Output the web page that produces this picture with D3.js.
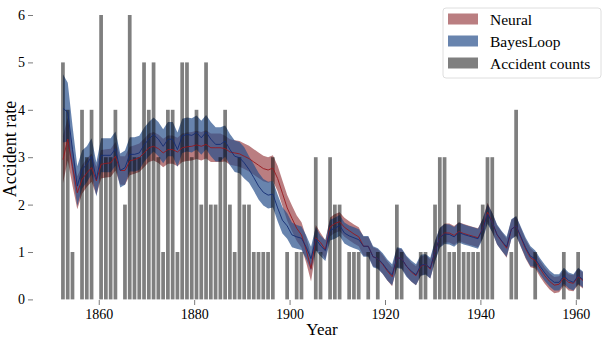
<!DOCTYPE html>
<meta charset="utf-8">
<style>
body { margin: 0; background: #fff; }
text { font-family: "Liberation Serif", "DejaVu Serif", serif; fill: #000; }
.tick-label { font-size: 14px; }
</style>
<svg width="602" height="338"></svg>
<script src="https://cdn.jsdelivr.net/npm/d3@7"></script>
<script>
// accident counts per year, 1852 .. 1961
var firstYear = 1852;
var counts = [5, 4, 1, 0, 4, 3, 4, 0, 6, 3, 3, 4, 0, 2, 6, 3, 3, 5, 4, 5,
  3, 1, 4, 4, 1, 5, 5, 3, 4, 2, 5, 2, 2, 3, 4, 2, 1, 3, 2, 2,
  1, 1, 1, 1, 3, 0, 0, 1, 0, 1, 1, 0, 0, 3, 1, 0, 3, 2, 2, 0,
  1, 1, 1, 0, 1, 0, 1, 0, 0, 0, 2, 1, 0, 0, 0, 1, 1, 0, 2, 3,
  3, 1, 1, 2, 1, 1, 1, 1, 2, 3, 3, 0, 0, 0, 1, 4, 0, 0, 0, 1,
  0, 0, 0, 0, 0, 1, 0, 0, 1, 0];

// BayesLoop posterior mean rate and half width of its band
var bayesMean = [4.03, 3.95, 3.16, 2.39, 2.74, 2.85, 3.02, 2.53, 3.04, 3.04,
  3.04, 3.18, 2.72, 2.78, 3.06, 3.06, 3.09, 3.26, 3.38, 3.48,
  3.38, 3.23, 3.38, 3.38, 3.16, 3.45, 3.48, 3.46, 3.52, 3.41,
  3.53, 3.38, 3.27, 3.27, 3.34, 3.16, 3.02, 2.99, 2.88, 2.74,
  2.57, 2.39, 2.26, 2.20, 2.22, 1.93, 1.67, 1.55, 1.36, 1.32,
  1.29, 1.10, 0.86, 1.28, 1.13, 1.03, 1.46, 1.50, 1.56, 1.40,
  1.34, 1.30, 1.26, 1.12, 1.12, 0.90, 0.86, 0.76, 0.62, 0.52,
  0.88, 0.86, 0.70, 0.60, 0.52, 0.72, 0.74, 0.66, 1.02, 1.30,
  1.38, 1.37, 1.32, 1.41, 1.37, 1.34, 1.31, 1.28, 1.49, 1.80,
  1.62, 1.37, 1.23, 1.11, 1.48, 1.55, 1.32, 1.09, 0.91, 0.86,
  0.70, 0.56, 0.44, 0.36, 0.36, 0.50, 0.40, 0.36, 0.50, 0.42];
var bayesHalf = [0.72, 0.62, 0.50, 0.42, 0.40, 0.38, 0.38, 0.36, 0.36, 0.36,
  0.36, 0.36, 0.36, 0.36, 0.36, 0.36, 0.36, 0.36, 0.36, 0.36,
  0.36, 0.36, 0.36, 0.36, 0.36, 0.36, 0.36, 0.36, 0.36, 0.36,
  0.36, 0.36, 0.36, 0.36, 0.33, 0.33, 0.33, 0.33, 0.33, 0.28,
  0.28, 0.28, 0.28, 0.28, 0.28, 0.28, 0.28, 0.27, 0.26, 0.25,
  0.25, 0.25, 0.25, 0.25, 0.22, 0.22, 0.22, 0.22, 0.22, 0.22,
  0.22, 0.22, 0.22, 0.22, 0.22, 0.22, 0.22, 0.22, 0.22, 0.22,
  0.22, 0.22, 0.22, 0.22, 0.22, 0.22, 0.22, 0.22, 0.22, 0.21,
  0.21, 0.21, 0.21, 0.21, 0.21, 0.21, 0.21, 0.21, 0.21, 0.21,
  0.21, 0.21, 0.21, 0.21, 0.21, 0.21, 0.21, 0.21, 0.21, 0.17,
  0.17, 0.17, 0.17, 0.17, 0.17, 0.17, 0.17, 0.17, 0.17, 0.17];

// Neural posterior mean rate and half width of its band
var neuralMean = [2.95, 3.38, 2.80, 2.25, 2.53, 2.67, 2.78, 2.50, 2.85, 2.87,
  2.88, 3.02, 2.72, 2.72, 2.92, 2.95, 2.99, 3.09, 3.20, 3.23,
  3.18, 3.09, 3.16, 3.16, 3.11, 3.20, 3.22, 3.23, 3.26, 3.23,
  3.27, 3.20, 3.20, 3.20, 3.18, 3.11, 3.09, 3.07, 3.02, 2.97,
  2.90, 2.83, 2.76, 2.73, 2.77, 2.55, 2.24, 1.93, 1.71, 1.50,
  1.36, 1.04, 0.65, 1.30, 1.20, 1.05, 1.53, 1.60, 1.64, 1.52,
  1.45, 1.38, 1.32, 1.12, 1.12, 0.90, 0.86, 0.74, 0.60, 0.48,
  0.88, 0.86, 0.70, 0.58, 0.50, 0.70, 0.74, 0.64, 1.02, 1.30,
  1.40, 1.40, 1.35, 1.43, 1.39, 1.36, 1.33, 1.30, 1.50, 1.84,
  1.62, 1.36, 1.22, 1.08, 1.48, 1.55, 1.30, 1.06, 0.88, 0.82,
  0.65, 0.50, 0.38, 0.30, 0.32, 0.46, 0.36, 0.34, 0.48, 0.40];
var neuralHalf = [0.50, 0.45, 0.40, 0.35, 0.30, 0.30, 0.30, 0.30, 0.30, 0.30,
  0.30, 0.30, 0.30, 0.30, 0.30, 0.30, 0.30, 0.30, 0.30, 0.30,
  0.30, 0.30, 0.30, 0.30, 0.30, 0.30, 0.30, 0.30, 0.30, 0.30,
  0.30, 0.30, 0.30, 0.30, 0.27, 0.27, 0.27, 0.27, 0.27, 0.27,
  0.27, 0.27, 0.27, 0.27, 0.27, 0.27, 0.27, 0.27, 0.27, 0.27,
  0.27, 0.27, 0.27, 0.27, 0.20, 0.20, 0.20, 0.20, 0.20, 0.20,
  0.20, 0.20, 0.20, 0.20, 0.20, 0.20, 0.20, 0.20, 0.20, 0.20,
  0.20, 0.20, 0.20, 0.20, 0.20, 0.20, 0.20, 0.20, 0.20, 0.20,
  0.20, 0.20, 0.20, 0.20, 0.20, 0.20, 0.20, 0.20, 0.20, 0.20,
  0.20, 0.20, 0.20, 0.20, 0.20, 0.20, 0.20, 0.20, 0.20, 0.17,
  0.17, 0.17, 0.17, 0.17, 0.17, 0.17, 0.17, 0.17, 0.17, 0.17];

var xTicks = [1860, 1880, 1900, 1920, 1940, 1960];
var yTicks = [0, 1, 2, 3, 4, 5, 6];
var legendItems = [
  {label: "Neural", fill: "rgb(140,40,45)", opacity: 0.6},
  {label: "BayesLoop", fill: "rgb(40,80,140)", opacity: 0.7},
  {label: "Accident counts", fill: "#000", opacity: 0.5}
];

var svg = d3.select("svg");

var x = d3.scaleLinear().domain([1852, 1960]).range([60.6, 575.8]),
    y = d3.scaleLinear().domain([0, 6]).range([299.4, 15]);

function rows(mean, half) {
  return mean.map(function(m, i) {
    return {year: firstYear + i, mean: m, lo: Math.max(0, m - half[i]), hi: m + half[i]};
  });
}
var neural = rows(neuralMean, neuralHalf),
    bayes = rows(bayesMean, bayesHalf);

var area = d3.area()
    .x(function(d) { return x(d.year + 0.5); })
    .y0(function(d) { return y(d.lo); })
    .y1(function(d) { return y(d.hi); });

var line = d3.line()
    .x(function(d) { return x(d.year + 0.5); })
    .y(function(d) { return y(d.mean); });

svg.append("path").datum(neural)
    .attr("d", area)
    .attr("fill", "rgb(140,40,45)").attr("fill-opacity", 0.6);

svg.append("path").datum(bayes)
    .attr("d", area)
    .attr("fill", "rgb(40,80,140)").attr("fill-opacity", 0.7);

// bars
svg.append("g").selectAll("rect")
    .data(counts)
  .enter().append("rect")
    .attr("x", function(d, i) { return x(firstYear + i + 0.1); })
    .attr("width", x(1852.88) - x(1852.1))
    .attr("y", function(d) { return y(d); })
    .attr("height", function(d) { return y(0) - y(d); })
    .attr("fill", "#000")
    .attr("fill-opacity", 0.5);

svg.append("path").datum(neural)
    .attr("d", line)
    .attr("fill", "none")
    .attr("stroke", "rgb(150,25,30)")
    .attr("stroke-width", 0.9);

svg.append("path").datum(bayes)
    .attr("d", line)
    .attr("fill", "none")
    .attr("stroke", "rgb(20,45,115)")
    .attr("stroke-width", 0.9);

// axes (spines hidden, ticks kept)
var xAxis = svg.append("g")
    .attr("transform", "translate(0,300)")
    .call(d3.axisBottom(x).tickValues(xTicks).tickFormat(d3.format("d")).tickSize(5).tickPadding(4));
xAxis.select(".domain").remove();
xAxis.selectAll("line").attr("stroke", "#222").attr("stroke-width", 0.6);
xAxis.selectAll("text").attr("class", "tick-label").attr("font-size", null).attr("font-family", null);

var yAxis = svg.append("g")
    .attr("transform", "translate(33,0)")
    .call(d3.axisLeft(y).tickValues(yTicks).tickFormat(d3.format("d")).tickSize(5).tickPadding(3));
yAxis.select(".domain").remove();
yAxis.selectAll("line").attr("stroke", "#222").attr("stroke-width", 0.6);
yAxis.selectAll("text").attr("class", "tick-label").attr("font-size", null).attr("font-family", null);

svg.append("text")
    .attr("x", 322).attr("y", 335)
    .attr("text-anchor", "middle")
    .style("font-size", "17px")
    .text("Year");

svg.append("text")
    .attr("transform", "translate(15.5,149) rotate(-90)")
    .attr("text-anchor", "middle")
    .style("font-size", "18px")
    .text("Accident rate");

// legend
var legend = svg.append("g").attr("transform", "translate(443,8)");
legend.append("rect")
    .attr("width", 158).attr("height", 70)
    .attr("rx", 3)
    .attr("fill", "#fff").attr("fill-opacity", 0.8)
    .attr("stroke", "#d6d6d6").attr("stroke-width", 0.8);

var item = legend.selectAll(".item")
    .data(legendItems)
  .enter().append("g")
    .attr("class", "item")
    .attr("transform", function(d, i) { return "translate(0," + (i * 22) + ")"; });

item.append("rect")
    .attr("x", 5).attr("y", 5.5)
    .attr("width", 30).attr("height", 11)
    .attr("fill", function(d) { return d.fill; })
    .attr("fill-opacity", function(d) { return d.opacity; });

item.append("text")
    .attr("x", 47).attr("y", 16.5)
    .style("font-size", "15.5px")
    .text(function(d) { return d.label; });
</script>
